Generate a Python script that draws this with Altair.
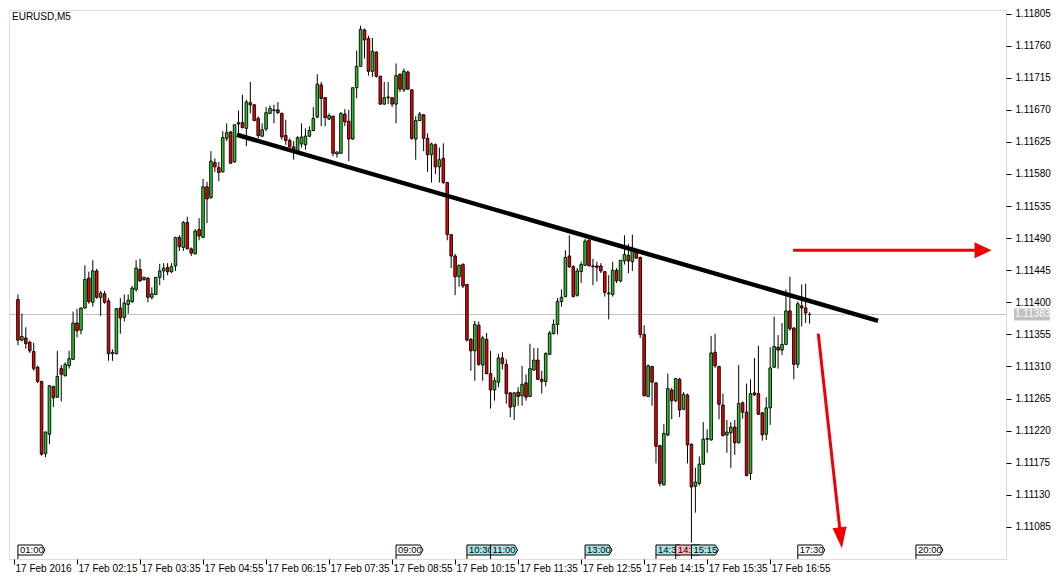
import altair as alt
import pandas as pd

# ---------------- data ----------------
BAR_START = "01:00"   # first full 5-minute bar
BAR_MINUTES = 5

opens = [1.11404, 1.11347, 1.11350, 1.11344, 1.11331, 1.11309, 1.11289, 1.11188, 1.11215, 1.11282,
         1.11267, 1.11307, 1.11297, 1.11311, 1.11320, 1.11371, 1.11361, 1.11392, 1.11434, 1.11400,
         1.11444, 1.11407, 1.11412, 1.11402, 1.11328, 1.11328, 1.11392, 1.11379, 1.11397, 1.11401,
         1.11418, 1.11446, 1.11432, 1.11434, 1.11407, 1.11411, 1.11435, 1.11444, 1.11449, 1.11443,
         1.11451, 1.11491, 1.11477, 1.11512, 1.11475, 1.11468, 1.11502, 1.11491, 1.11562, 1.11547,
         1.11596, 1.11589, 1.11583, 1.11630, 1.11639, 1.11597, 1.11650, 1.11652, 1.11644, 1.11680,
         1.11677, 1.11658, 1.11633, 1.11643, 1.11665, 1.11670, 1.11670, 1.11665, 1.11634, 1.11627,
         1.11618, 1.11612, 1.11622, 1.11621, 1.11633, 1.11641, 1.11660, 1.11705, 1.11687, 1.11657,
         1.11661, 1.11608, 1.11609, 1.11664, 1.11654, 1.11629, 1.11701, 1.11731, 1.11782, 1.11770,
         1.11724, 1.11751, 1.11717, 1.11678, 1.11687, 1.11687, 1.11678, 1.11720, 1.11698, 1.11723,
         1.11698, 1.11629, 1.11655, 1.11663, 1.11630, 1.11607, 1.11621, 1.11590, 1.11602, 1.11568,
         1.11495, 1.11465, 1.11436, 1.11453, 1.11425, 1.11348, 1.11332, 1.11368, 1.11312, 1.11348,
         1.11300, 1.11277, 1.11288, 1.11322, 1.11313, 1.11273, 1.11254, 1.11274, 1.11269, 1.11287,
         1.11268, 1.11305, 1.11319, 1.11292, 1.11289, 1.11327, 1.11356, 1.11369, 1.11401, 1.11408,
         1.11465, 1.11450, 1.11410, 1.11443, 1.11452, 1.11487, 1.11451, 1.11451, 1.11451, 1.11443,
         1.11413, 1.11411, 1.11445, 1.11430, 1.11458, 1.11466, 1.11457, 1.11472, 1.11463, 1.11355,
         1.11268, 1.11310, 1.11287, 1.11199, 1.11144, 1.11214, 1.11277, 1.11262, 1.11292, 1.11250,
         1.11270, 1.11201, 1.11142, 1.11146, 1.11173, 1.11208, 1.11207, 1.11330, 1.11310, 1.11256,
         1.11214, 1.11217, 1.11225, 1.11203, 1.11259, 1.11246, 1.11160, 1.11273, 1.11272, 1.11245,
         1.11215, 1.11252, 1.11309, 1.11337, 1.11333, 1.11341, 1.11388, 1.11364, 1.11313, 1.11395,
         1.11392, 1.11383]

highs = [1.11411, 1.11384, 1.11365, 1.11346, 1.11343, 1.11311, 1.11290, 1.11219, 1.11284, 1.11283,
         1.11332, 1.11312, 1.11316, 1.11332, 1.11387, 1.11391, 1.11393, 1.11452, 1.11443, 1.11459,
         1.11447, 1.11416, 1.11416, 1.11406, 1.11334, 1.11392, 1.11406, 1.11411, 1.11411, 1.11423,
         1.11459, 1.11461, 1.11436, 1.11435, 1.11421, 1.11435, 1.11454, 1.11455, 1.11455, 1.11455,
         1.11492, 1.11494, 1.11514, 1.11520, 1.11477, 1.11503, 1.11518, 1.11573, 1.11569, 1.11612,
         1.11602, 1.11597, 1.11640, 1.11651, 1.11640, 1.11649, 1.11669, 1.11691, 1.11684, 1.11709,
         1.11678, 1.11661, 1.11651, 1.11674, 1.11676, 1.11677, 1.11681, 1.11666, 1.11656, 1.11630,
         1.11626, 1.11633, 1.11651, 1.11644, 1.11647, 1.11674, 1.11720, 1.11709, 1.11688, 1.11665,
         1.11662, 1.11611, 1.11667, 1.11671, 1.11670, 1.11701, 1.11753, 1.11788, 1.11784, 1.11774,
         1.11771, 1.11752, 1.11718, 1.11709, 1.11709, 1.11688, 1.11735, 1.11721, 1.11728, 1.11725,
         1.11699, 1.11661, 1.11667, 1.11664, 1.11637, 1.11624, 1.11623, 1.11617, 1.11623, 1.11569,
         1.11496, 1.11468, 1.11453, 1.11455, 1.11426, 1.11350, 1.11374, 1.11373, 1.11353, 1.11357,
         1.11332, 1.11295, 1.11328, 1.11330, 1.11320, 1.11274, 1.11274, 1.11281, 1.11311, 1.11299,
         1.11342, 1.11336, 1.11336, 1.11304, 1.11330, 1.11360, 1.11376, 1.11406, 1.11418, 1.11473,
         1.11494, 1.11452, 1.11448, 1.11457, 1.11489, 1.11492, 1.11461, 1.11457, 1.11455, 1.11444,
         1.11438, 1.11457, 1.11448, 1.11459, 1.11494, 1.11482, 1.11495, 1.11473, 1.11464, 1.11368,
         1.11313, 1.11311, 1.11288, 1.11200, 1.11229, 1.11300, 1.11280, 1.11294, 1.11294, 1.11274,
         1.11272, 1.11202, 1.11168, 1.11184, 1.11232, 1.11222, 1.11353, 1.11356, 1.11311, 1.11272,
         1.11235, 1.11232, 1.11235, 1.11312, 1.11261, 1.11286, 1.11292, 1.11322, 1.11339, 1.11246,
         1.11267, 1.11337, 1.11380, 1.11354, 1.11371, 1.11418, 1.11436, 1.11365, 1.11401, 1.11425,
         1.11426, 1.11386]

lows = [1.11340, 1.11345, 1.11335, 1.11329, 1.11304, 1.11287, 1.11185, 1.11183, 1.11201, 1.11253,
        1.11266, 1.11261, 1.11296, 1.11307, 1.11319, 1.11351, 1.11355, 1.11391, 1.11398, 1.11394,
        1.11405, 1.11381, 1.11398, 1.11318, 1.11318, 1.11327, 1.11356, 1.11373, 1.11384, 1.11399,
        1.11415, 1.11429, 1.11430, 1.11400, 1.11404, 1.11410, 1.11424, 1.11431, 1.11438, 1.11441,
        1.11444, 1.11472, 1.11472, 1.11475, 1.11465, 1.11467, 1.11487, 1.11490, 1.11511, 1.11545,
        1.11583, 1.11570, 1.11582, 1.11626, 1.11595, 1.11596, 1.11634, 1.11644, 1.11619, 1.11665,
        1.11654, 1.11630, 1.11632, 1.11640, 1.11664, 1.11651, 1.11664, 1.11628, 1.11621, 1.11617,
        1.11600, 1.11611, 1.11617, 1.11614, 1.11632, 1.11640, 1.11658, 1.11647, 1.11647, 1.11656,
        1.11605, 1.11603, 1.11608, 1.11647, 1.11598, 1.11628, 1.11686, 1.11730, 1.11742, 1.11718,
        1.11716, 1.11715, 1.11677, 1.11677, 1.11678, 1.11674, 1.11651, 1.11695, 1.11695, 1.11698,
        1.11628, 1.11600, 1.11654, 1.11612, 1.11583, 1.11568, 1.11580, 1.11568, 1.11566, 1.11487,
        1.11448, 1.11410, 1.11422, 1.11420, 1.11345, 1.11304, 1.11290, 1.11311, 1.11290, 1.11299,
        1.11251, 1.11262, 1.11281, 1.11306, 1.11258, 1.11239, 1.11235, 1.11255, 1.11255, 1.11262,
        1.11267, 1.11304, 1.11291, 1.11272, 1.11282, 1.11326, 1.11355, 1.11355, 1.11394, 1.11407,
        1.11448, 1.11407, 1.11408, 1.11427, 1.11451, 1.11451, 1.11424, 1.11429, 1.11441, 1.11408,
        1.11376, 1.11408, 1.11427, 1.11428, 1.11453, 1.11441, 1.11444, 1.11461, 1.11350, 1.11268,
        1.11267, 1.11255, 1.11174, 1.11142, 1.11143, 1.11212, 1.11236, 1.11260, 1.11239, 1.11249,
        1.11174, 1.11063, 1.11105, 1.11143, 1.11172, 1.11189, 1.11206, 1.11308, 1.11236, 1.11212,
        1.11189, 1.11168, 1.11186, 1.11202, 1.11237, 1.11156, 1.11151, 1.11269, 1.11242, 1.11206,
        1.11207, 1.11228, 1.11308, 1.11307, 1.11326, 1.11340, 1.11360, 1.11292, 1.11308, 1.11366,
        1.11371, 1.11370]

closes = [1.11347, 1.11352, 1.11342, 1.11332, 1.11307, 1.11289, 1.11187, 1.11218, 1.11283, 1.11266,
          1.11296, 1.11299, 1.11313, 1.11321, 1.11371, 1.11360, 1.11392, 1.11432, 1.11401, 1.11444,
          1.11407, 1.11413, 1.11400, 1.11328, 1.11330, 1.11391, 1.11378, 1.11399, 1.11403, 1.11420,
          1.11448, 1.11430, 1.11435, 1.11407, 1.11412, 1.11435, 1.11444, 1.11448, 1.11443, 1.11450,
          1.11491, 1.11478, 1.11512, 1.11475, 1.11469, 1.11500, 1.11493, 1.11562, 1.11545, 1.11598,
          1.11590, 1.11582, 1.11631, 1.11638, 1.11595, 1.11649, 1.11652, 1.11645, 1.11681, 1.11677,
          1.11655, 1.11634, 1.11642, 1.11666, 1.11672, 1.11669, 1.11666, 1.11632, 1.11627, 1.11618,
          1.11614, 1.11631, 1.11632, 1.11633, 1.11641, 1.11658, 1.11706, 1.11686, 1.11659, 1.11662,
          1.11609, 1.11611, 1.11665, 1.11653, 1.11629, 1.11701, 1.11731, 1.11783, 1.11768, 1.11724,
          1.11752, 1.11717, 1.11678, 1.11687, 1.11688, 1.11678, 1.11718, 1.11699, 1.11724, 1.11699,
          1.11630, 1.11655, 1.11664, 1.11630, 1.11607, 1.11622, 1.11590, 1.11600, 1.11568, 1.11495,
          1.11465, 1.11436, 1.11452, 1.11423, 1.11347, 1.11332, 1.11369, 1.11313, 1.11350, 1.11300,
          1.11277, 1.11290, 1.11322, 1.11314, 1.11272, 1.11253, 1.11273, 1.11268, 1.11285, 1.11267,
          1.11307, 1.11319, 1.11292, 1.11289, 1.11328, 1.11357, 1.11369, 1.11401, 1.11407, 1.11463,
          1.11450, 1.11408, 1.11444, 1.11453, 1.11486, 1.11451, 1.11450, 1.11449, 1.11444, 1.11414,
          1.11412, 1.11445, 1.11430, 1.11459, 1.11467, 1.11458, 1.11474, 1.11462, 1.11355, 1.11269,
          1.11311, 1.11288, 1.11198, 1.11146, 1.11216, 1.11279, 1.11262, 1.11293, 1.11249, 1.11271,
          1.11200, 1.11141, 1.11148, 1.11173, 1.11208, 1.11209, 1.11329, 1.11311, 1.11257, 1.11213,
          1.11218, 1.11225, 1.11203, 1.11258, 1.11246, 1.11157, 1.11272, 1.11270, 1.11243, 1.11214,
          1.11252, 1.11308, 1.11338, 1.11333, 1.11341, 1.11388, 1.11363, 1.11313, 1.11398, 1.11392,
          1.11385, 1.11383]

x_tick_times = ["00:55", "02:15", "03:35", "04:55", "06:15", "07:35", "08:55",
                "10:15", "11:35", "12:55", "14:15", "15:35", "16:55"]
x_tick_labels = ["17 Feb 2016", "17 Feb 02:15", "17 Feb 03:35", "17 Feb 04:55", "17 Feb 06:15",
                 "17 Feb 07:35", "17 Feb 08:55", "17 Feb 10:15", "17 Feb 11:35", "17 Feb 12:55",
                 "17 Feb 14:15", "17 Feb 15:35", "17 Feb 16:55"]
y_ticks = [1.11085, 1.11130, 1.11175, 1.11220, 1.11265, 1.11310, 1.11355, 1.11400, 1.11445,
           1.11490, 1.11535, 1.11580, 1.11625, 1.11670, 1.11715, 1.11760, 1.11805]

symbol_title = "EURUSD,M5"
current_price = 1.11383

event_times = ["01:00", "09:00", "10:30", "11:00", "13:00", "14:30", "14:55", "15:15", "17:30", "20:00"]
event_kinds = ["plain", "plain", "cyan", "cyan", "cyan", "cyan", "pink", "cyan", "plain", "plain"]

trend_times = ["05:38", "19:12"]
trend_prices = [1.11635, 1.11374]

h_arrow_times = ["17:24", "21:22"]
h_arrow_prices = [1.11473, 1.11473]
h_arrow_tip = ("21:36", 1.11473)

d_arrow_times = ["17:56", "18:24"]
d_arrow_prices = [1.11356, 1.11076]
d_arrow_tip = ("18:26", 1.11055)

# ---------------- styling ----------------
GREEN = "#2CC42C"
RED = "#F00000"
CYAN = "#A8E6E6"
PINK = "#FFB6C1"
KIND_FILL = {"plain": "#FFFFFF", "cyan": CYAN, "pink": PINK}
FONT = "Liberation Sans"
W, H = 997, 549
BOX_W = 24


def to_min(s):
    h, m = s.split(":")
    return int(h) * 60 + int(m)


start = to_min(BAR_START)
times = [start + BAR_MINUTES * i for i in range(len(opens))]
dirs = ["down" if c < o else "up" for o, c in zip(opens, closes)]
candles = pd.DataFrame({"t": times, "o": opens, "h": highs, "l": lows, "c": closes, "dir": dirs})

x_domain = [to_min("00:55"), to_min("21:48")]
y_domain = [1.11040, 1.11810]
px_per_min = W / (x_domain[1] - x_domain[0])

label_expr = "''"
for t, lab in reversed(list(zip(x_tick_times, x_tick_labels))):
    label_expr = f"datum.value == {to_min(t)} ? '{lab}' : ({label_expr})"

x_axis = alt.Axis(values=[to_min(t) for t in x_tick_times], labelExpr=label_expr, title=None,
                  orient="bottom", tickSize=5, labelAlign="left", labelOffset=1, labelPadding=-1,
                  labelBaseline="top", labelFlush=False, labelOverlap=False, labelBound=False,
                  domain=False, grid=False, tickColor="black", labelColor="black",
                  labelFont=FONT, labelFontSize=10)
y_axis = alt.Axis(values=y_ticks, format=".5f", orient="right", title=None, tickSize=5,
                  labelPadding=4, labelOverlap=False, domain=False, grid=False,
                  tickColor="black", labelColor="black", labelFont=FONT, labelFontSize=10)
x_scale = alt.Scale(domain=x_domain, nice=False, zero=False)
y_scale = alt.Scale(domain=y_domain, nice=False, zero=False)


def X(field):
    return alt.X(f"{field}:Q", scale=x_scale, axis=x_axis)


def Y(field):
    return alt.Y(f"{field}:Q", scale=y_scale, axis=y_axis)


layers = []

# current price line
price_df = pd.DataFrame({"p": [current_price], "label": [f"{current_price:.5f}"]})
layers.append(alt.Chart(price_df).mark_rule(color="#C0C0C0", strokeWidth=1).encode(y=Y("p")))

# candles
base = alt.Chart(candles)
layers.append(base.mark_rule(color="black", strokeWidth=1).encode(x=X("t"), y=Y("l"), y2="h:Q"))
layers.append(base.mark_bar(size=2.6, stroke="black", strokeWidth=0.9).encode(
    x=X("t"), y=Y("o"), y2="c:Q",
    fill=alt.Fill("dir:N", scale=alt.Scale(domain=["up", "down"], range=[GREEN, RED]), legend=None)))

# trend line
trend_df = pd.DataFrame({"t": [to_min(t) for t in trend_times], "p": trend_prices})
layers.append(alt.Chart(trend_df).mark_line(color="black", strokeWidth=4.5, strokeCap="butt").encode(
    x=X("t"), y=Y("p")))

# red arrows
h_df = pd.DataFrame({"t": [to_min(t) for t in h_arrow_times], "p": h_arrow_prices})
layers.append(alt.Chart(h_df).mark_line(color=RED, strokeWidth=3, strokeCap="butt").encode(x=X("t"), y=Y("p")))
h_tip = pd.DataFrame({"t": [to_min(h_arrow_tip[0])], "p": [h_arrow_tip[1]]})
layers.append(alt.Chart(h_tip).mark_point(shape="M0,0L-17,-8L-17,8Z", size=4, filled=True, fill=RED,
                                          strokeWidth=0, opacity=1).encode(x=X("t"), y=Y("p")))
d_df = pd.DataFrame({"t": [to_min(t) for t in d_arrow_times], "p": d_arrow_prices})
layers.append(alt.Chart(d_df).mark_line(color=RED, strokeWidth=3, strokeCap="butt").encode(x=X("t"), y=Y("p")))
d_tip = pd.DataFrame({"t": [to_min(d_arrow_tip[0])], "p": [d_arrow_tip[1]]})
layers.append(alt.Chart(d_tip).mark_point(shape="M0,0L4.7,-21.7L-9.3,-20.1Z", size=4, filled=True, fill=RED,
                                          strokeWidth=0, opacity=1).encode(x=X("t"), y=Y("p")))

# event markers on the time axis (a later marker covers the tail of an earlier one)
BOX = f"M0,0V-14H{BOX_W}L{BOX_W + 3},-9L{BOX_W},-4H0"
ev_min = [to_min(t) for t in event_times]
for i, (t, kind) in enumerate(zip(event_times, event_kinds)):
    gap = (ev_min[i + 1] - ev_min[i]) * px_per_min if i + 1 < len(ev_min) else 99
    limit = max(1, min(BOX_W + 4, gap))
    d = pd.DataFrame({"t": [ev_min[i]], "label": [t]})
    layers.append(alt.Chart(d).mark_point(shape=BOX, size=4, filled=True, fill=KIND_FILL[kind],
                                          stroke="black", strokeWidth=1, opacity=1).encode(
        x=X("t"), y=alt.value(H)))
    layers.append(alt.Chart(d).mark_text(align="left", baseline="middle", dx=2, dy=-9, fontSize=9.5,
                                         font=FONT, color="black", limit=limit,
                                         ellipsis="\u200b").encode(
        x=X("t"), y=alt.value(H), text="label:N"))

# current price tag on the price axis
layers.append(alt.Chart(price_df).mark_point(shape="M-18,-6H18V6H-18Z", size=4, filled=True,
                                             fill="#C0C0C0", strokeWidth=0, opacity=1).encode(
    x=alt.value(W + 26), y=Y("p")))
layers.append(alt.Chart(price_df).mark_text(align="left", baseline="middle", fontSize=10, font=FONT,
                                            color="white").encode(
    x=alt.value(W + 9), y=Y("p"), text="label:N"))

# symbol caption
title_df = pd.DataFrame({"label": [symbol_title]})
layers.append(alt.Chart(title_df).mark_text(align="left", baseline="top", fontSize=10, font=FONT,
                                            color="black").encode(
    x=alt.value(3), y=alt.value(2), text="label:N"))

chart = alt.layer(*layers).properties(width=W, height=H, padding=0).configure_view(
    stroke="black", strokeWidth=1
).configure(background="white")

chart.save("out.html", embed_options={"renderer": "svg", "actions": False})
